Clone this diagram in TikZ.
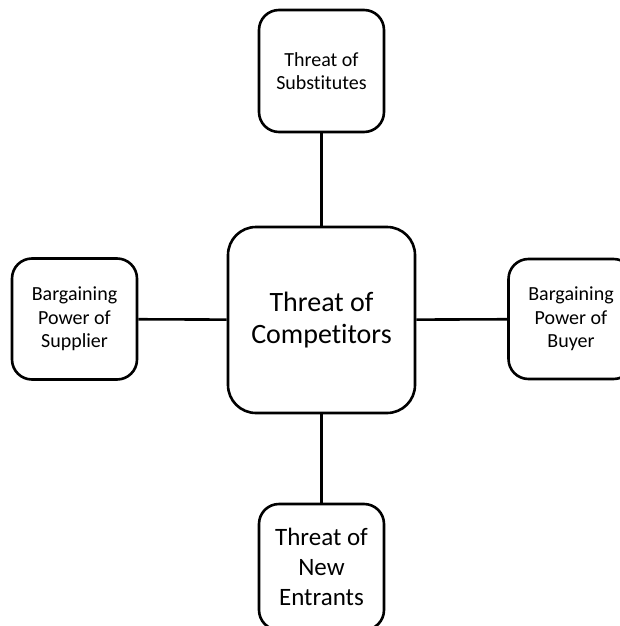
\documentclass[tikz,border=0pt]{standalone}
\usepackage{fontspec}
\setmainfont{Carlito}[Ligatures=NoCommon]
\begin{document}
\begin{tikzpicture}[x=1pt,y=-1pt,
  box/.style={draw=black, line width=2.6pt, rounded corners=20pt, fill=white,
              align=center, inner sep=0pt},
  small/.style={box, minimum width=125pt, minimum height=122pt,
                font=\fontsize{20}{23.5}\selectfont},
  link/.style={line width=2.6pt}]
\useasboundingbox (0,0) rectangle (620,626);
\clip (0,0) rectangle (620,626);
% central force
\node[box, minimum width=187pt, minimum height=186pt, rounded corners=28pt,
      font=\fontsize{28}{31.5}\selectfont] (comp) at (321.5,320) {Threat of\\Competitors};
% surrounding forces
\node[small] (subst) at (321.5,71) {Threat of\\Substitutes};
\node[small, minimum height=121pt] (supp) at (74.5,319) {Bargaining\\Power of\\Supplier};
\node[small, minimum height=120pt] (buyer) at (571,319) {Bargaining\\Power of\\Buyer};
\node[small, minimum height=126pt, font=\fontsize{25}{30}\selectfont] (entr) at (321.5,567) {Threat of\\New\\Entrants};
% links to the centre
\draw[link] (subst) -- (comp);
\draw[link] (entr) -- (comp);
\draw[link] (supp) -- (comp);
\draw[link] (buyer) -- (comp);
\end{tikzpicture}
\end{document}
